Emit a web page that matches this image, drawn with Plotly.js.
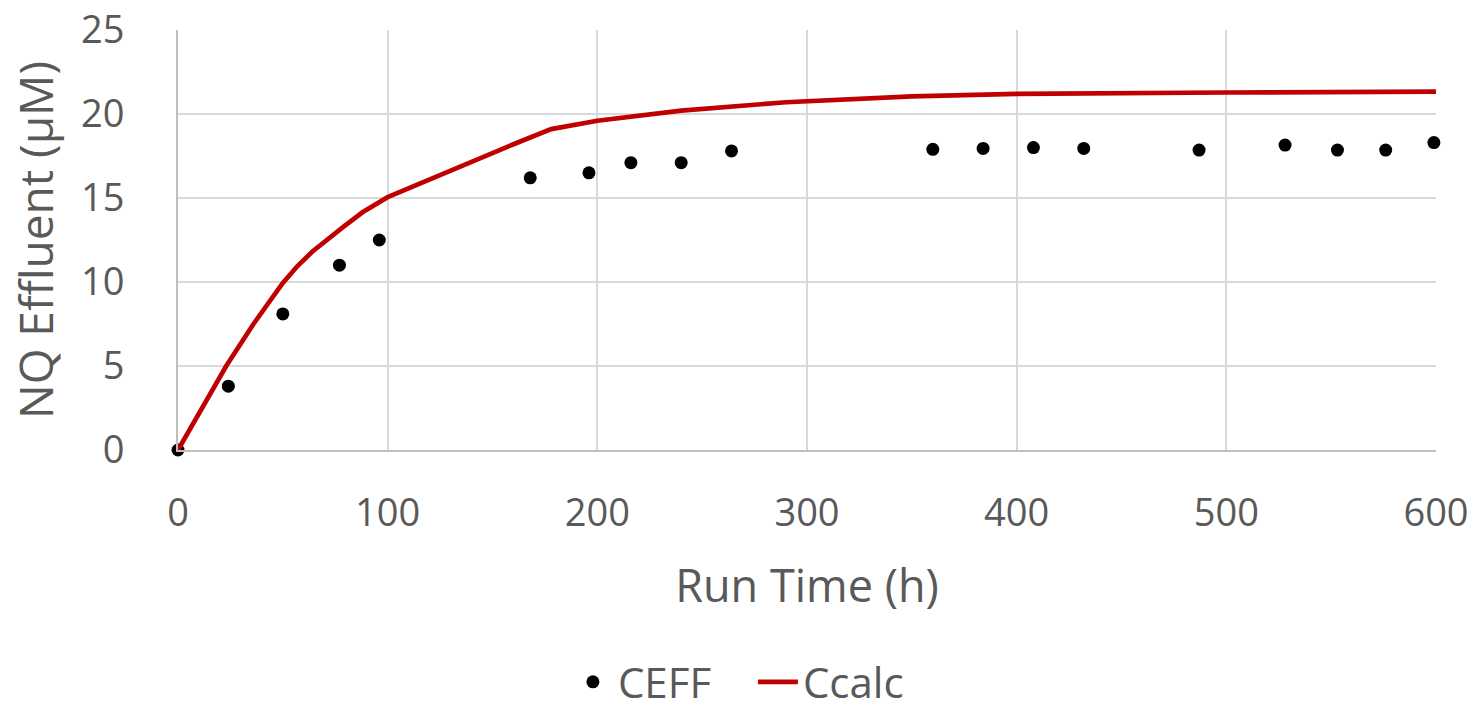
<!DOCTYPE html>
<html>
<head>
<meta charset="utf-8">
<script src="https://cdn.plot.ly/plotly-3.0.1.min.js"></script>
<style>
  html, body { margin: 0; padding: 0; background: #ffffff; }
  #chart { width: 1482px; height: 715px; }
</style>
</head>
<body>
<div id="chart"></div>
<script>
// Measured data (CEFF)
const ceffTime = [0, 24, 50, 77, 96, 168, 196, 216, 240, 264, 360, 384, 408, 432, 487, 528, 553, 576, 599];
const ceffValue = [0, 3.8, 8.1, 11.0, 12.5, 16.2, 16.5, 17.1, 17.1, 17.8, 17.9, 17.95, 18.0, 17.95, 17.85, 18.15, 17.85, 17.85, 18.3];

// Calculated curve (Ccalc)
const calcTime = [0, 12, 23, 36, 50, 57, 64, 79, 88, 100, 130, 160, 178, 200, 240, 290, 350, 400, 500, 600];
const calcValue = [0, 2.55, 5.0, 7.5, 9.95, 10.95, 11.8, 13.3, 14.15, 15.05, 16.65, 18.2, 19.1, 19.6, 20.2, 20.7, 21.05, 21.2, 21.28, 21.33];

const xTickVals = [0, 100, 200, 300, 400, 500, 600];
const yTickVals = [0, 5, 10, 15, 20, 25];

const FONT = '"Open Sans", "Noto Sans", sans-serif';
const GREY = '#595959';

const traces = [
  {
    x: ceffTime, y: ceffValue, name: 'CEFF',
    type: 'scatter', mode: 'markers',
    marker: { color: '#000000', size: 13 },
    cliponaxis: false
  },
  {
    x: calcTime, y: calcValue, name: 'Ccalc',
    type: 'scatter', mode: 'lines',
    line: { color: '#c00000', width: 4.7 },
    cliponaxis: false
  }
];

const layout = {
  width: 1482, height: 715,
  paper_bgcolor: '#ffffff', plot_bgcolor: '#ffffff',
  margin: { l: 178, r: 46, t: 30, b: 265, pad: 0, autoexpand: false },
  font: { family: FONT, color: GREY },
  showlegend: true,
  legend: {
    orientation: 'h', x: 0.457, xanchor: 'center', y: -0.6335, yanchor: 'bottom',
    font: { family: FONT, size: 42, color: GREY },
    itemwidth: 40, traceorder: 'normal',
    entrywidth: 130, entrywidthmode: 'pixels'
  },
  xaxis: {
    range: [0, 600], tickvals: xTickVals, ticktext: xTickVals.map(String),
    showgrid: true, gridcolor: '#d9d9d9', gridwidth: 2,
    showline: true, linecolor: '#bfbfbf', linewidth: 2,
    zeroline: false, ticks: '', ticklabelstandoff: 28,
    tickfont: { family: FONT, size: 38, color: GREY },
    title: { text: 'Run Time (h)', font: { family: FONT, size: 45, color: GREY }, standoff: 35 },
    automargin: true, fixedrange: true
  },
  yaxis: {
    range: [0, 25], tickvals: yTickVals, ticktext: yTickVals.map(String),
    showgrid: true, gridcolor: '#d9d9d9', gridwidth: 2,
    showline: true, linecolor: '#bfbfbf', linewidth: 2,
    zeroline: false, ticks: '', ticklabelstandoff: 44,
    tickfont: { family: FONT, size: 38, color: GREY },
    title: { text: 'NQ Effluent (μM)', font: { family: FONT, size: 46, color: GREY }, standoff: 13 },
    automargin: true, fixedrange: true
  }
};

Plotly.newPlot('chart', traces, layout, { displayModeBar: false, staticPlot: true });
</script>
</body>
</html>
